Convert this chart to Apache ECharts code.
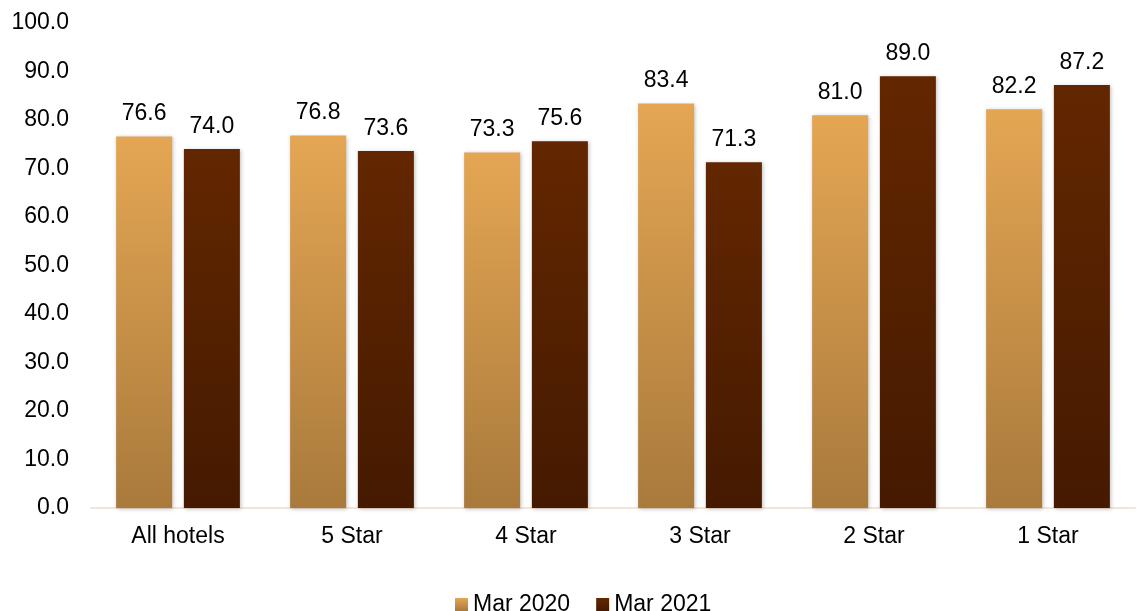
<!DOCTYPE html>
<html><head><meta charset="utf-8">
<script src="https://cdn.jsdelivr.net/npm/echarts@6/dist/echarts.min.js"></script>
<style>html,body{margin:0;padding:0;background:#fff}#c{width:1137px;height:611px}</style>
</head><body><div id="c"></div>
<script>
const categories = ['All hotels', '5 Star', '4 Star', '3 Star', '2 Star', '1 Star'];
const mar2020 = [76.6, 76.8, 73.3, 83.4, 81.0, 82.2];
const mar2021 = [74.0, 73.6, 75.6, 71.3, 89.0, 87.2];
const seriesNames = ['Mar 2020', 'Mar 2021'];

const font = 'Liberation Sans, Arial, sans-serif';
const fs = 23;
const grad = (a, b) => new echarts.graphic.LinearGradient(0, 0, 0, 1, [{offset: 0, color: a}, {offset: 1, color: b}]);
const chart = echarts.init(document.getElementById('c'));
const label = {show: true, position: 'top', distance: 11, color: '#000', fontSize: fs, fontFamily: font, formatter: p => p.value.toFixed(1)};
chart.setOption({
  animation: false,
  grid: {left: 91, right: 2, top: 23, bottom: 103},
  legend: {left: 450, bottom: -10, icon: 'rect', itemWidth: 13, itemHeight: 13, itemGap: 26, textStyle: {fontSize: fs, fontFamily: font, color: '#000'}, data: seriesNames},
  xAxis: {type: 'category', data: categories, axisTick: {show: false},
    axisLine: {lineStyle: {color: '#F2E6D8', width: 2}},
    axisLabel: {fontSize: fs, fontFamily: font, color: '#000', margin: 17}},
  yAxis: {type: 'value', min: 0, max: 100, interval: 10, splitLine: {show: false},
    axisLabel: {fontSize: fs, fontFamily: font, color: '#000', margin: 22, formatter: v => v.toFixed(1)}},
  series: [
    {name: seriesNames[0], type: 'bar', data: mar2020, barWidth: 56, barGap: '21%',
      itemStyle: {color: grad('#E4A653', '#A97A3C'), shadowColor: 'rgba(0,0,0,0.25)', shadowBlur: 4, shadowOffsetX: 1, shadowOffsetY: 1}, label},
    {name: seriesNames[1], type: 'bar', data: mar2021, barWidth: 56,
      itemStyle: {color: grad('#632700', '#451A00'), shadowColor: 'rgba(0,0,0,0.25)', shadowBlur: 4, shadowOffsetX: 1, shadowOffsetY: 1}, label}
  ]
});
</script></body></html>
